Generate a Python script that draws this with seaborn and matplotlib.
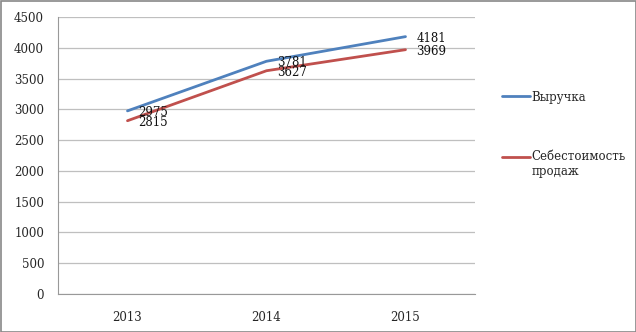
import matplotlib
matplotlib.use("Agg")
import matplotlib.pyplot as plt
from matplotlib.lines import Line2D
from matplotlib.patches import Rectangle
from matplotlib.legend_handler import HandlerLine2D
import seaborn as sns
import pandas as pd

years = ["2013", "2014", "2015"]
revenue = [2975, 3781, 4181]
cost = [2815, 3627, 3969]
series_names = ["Выручка", "Себестоимость\nпродаж"]
y_ticks = [0, 500, 1000, 1500, 2000, 2500, 3000, 3500, 4000, 4500]

colors = ["#4F81BD", "#C0504D"]

sns.set_style("white")
plt.rcParams["font.family"] = ["DejaVu Serif"]

df = pd.DataFrame({
    "year": years * 2,
    "value": revenue + cost,
    "series": [series_names[0]] * 3 + [series_names[1]] * 3,
})
df["pos"] = [years.index(y) for y in df["year"]]

fig = plt.figure(figsize=(6.36, 3.32), dpi=100)
ax = fig.add_axes([58 / 636, 38 / 332, 417 / 636, 277 / 332])

sns.lineplot(data=df, x="pos", y="value", hue="series", palette=colors,
             linewidth=2.0, ax=ax, legend=False, sort=False)

# value labels to the right of each point
for vals in (revenue, cost):
    for i, v in enumerate(vals):
        ax.annotate(str(v), (i, v), xytext=(8, -1), textcoords="offset points",
                    ha="left", va="center", fontsize=8.5, color="#111111")

ax.set_xlim(-0.5, 2.5)
ax.set_ylim(0, 4500)
ax.set_yticks(y_ticks)
ax.set_xticks(range(len(years)))
ax.set_xticklabels(years)
ax.set_xticks([-0.5, 0.5, 1.5, 2.5], minor=True)
ax.tick_params(axis="x", which="major", length=0, pad=12, labelsize=8.5)
ax.tick_params(axis="x", which="minor", length=4, color="#999999", width=0.8, direction="out")
ax.tick_params(axis="y", length=4, color="#999999", width=0.8, direction="out",
               pad=6, labelsize=8.5)
ax.set_xlabel("")
ax.set_ylabel("")
ax.grid(axis="y", color="#BFBFBF", linewidth=0.9)
ax.set_axisbelow(True)
for s in ["top", "right"]:
    ax.spines[s].set_visible(False)
for s in ["left", "bottom"]:
    ax.spines[s].set_color("#999999")
    ax.spines[s].set_linewidth(0.8)


class FirstLineHandler(HandlerLine2D):
    """Line handle raised to sit beside the first line of a two-line label."""

    def __init__(self, shift=0.0, **kw):
        super().__init__(**kw)
        self.shift = shift

    def create_artists(self, legend, orig_handle, xdescent, ydescent, width,
                       height, fontsize, trans):
        artists = super().create_artists(legend, orig_handle, xdescent, ydescent,
                                         width, height, fontsize, trans)
        for a in artists:
            a.set_ydata([y + self.shift for y in a.get_ydata()])
        return artists


handles = [Line2D([], [], color=c, linewidth=2.0) for c in colors]
fig.legend(handles, series_names, loc="upper left",
           bbox_to_anchor=(491 / 636, 1 - 80 / 332),
           frameon=False, fontsize=8.5, handlelength=2.4, handletextpad=0.1,
           labelspacing=3.9,
           handler_map={handles[1]: FirstLineHandler(shift=5.5)})

fig.add_artist(Rectangle((0.5 / 636, 0.5 / 332), 635 / 636, 331 / 332,
                         transform=fig.transFigure, fill=False,
                         edgecolor="#888888", linewidth=1.2))

fig.savefig("out.png", dpi=100)
